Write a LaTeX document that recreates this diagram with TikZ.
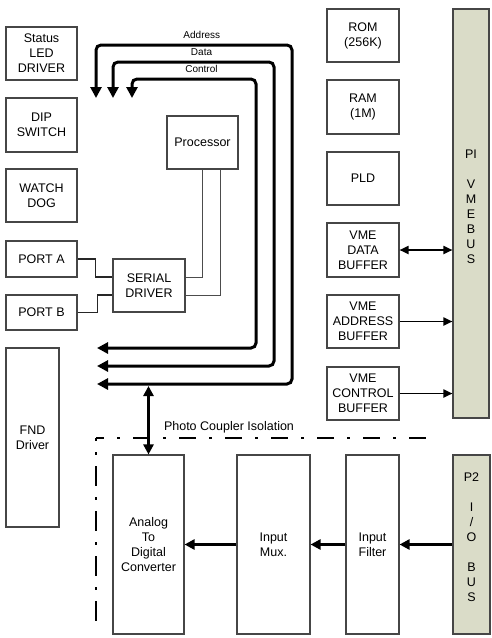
\documentclass[tikz,border=0pt]{standalone}
\usepackage{fontspec}
\setmainfont{Liberation Sans}
\usetikzlibrary{arrows.meta, positioning}
\definecolor{busfill}{RGB}{218,220,200}
\definecolor{boxline}{RGB}{70,70,70}

\begin{document}
\begin{tikzpicture}[x=1pt, y=-1pt, >=Triangle, font=\fontsize{12.5}{15}\selectfont]
  % Define styles
  \tikzstyle{block} = [rectangle, draw=boxline, line width=1.1pt, fill=white, align=center, inner sep=0pt]
  \tikzstyle{busbar} = [rectangle, draw=boxline, line width=1.1pt, fill=busfill, inner sep=0pt]
  \tikzstyle{bus} = [draw, line width=3pt, rounded corners=5pt, {Triangle[length=11pt,width=11pt]}-{Triangle[length=11pt,width=11pt]}]
  \tikzstyle{flow} = [draw, line width=2.5pt, -{Triangle[length=10pt,width=10pt]}]
  \tikzstyle{vmelink} = [draw, line width=1.8pt, -{Triangle[length=9pt,width=8pt]}]
  \tikzstyle{vmeboth} = [draw, line width=1.8pt, {Triangle[length=9pt,width=8pt]}-{Triangle[length=9pt,width=8pt]}]
  \tikzstyle{wire} = [draw, line width=1.5pt, black!85]
  \tikzstyle{thinwire} = [draw, line width=1pt, black!70]
  \tikzstyle{isohoriz} = [draw, line width=2.8pt, dash pattern=on 17pt off 13pt on 3pt off 13pt, dash phase=9pt]
  \tikzstyle{isovert} = [draw, line width=2.8pt, dash pattern=on 20pt off 11pt on 3pt off 11pt, dash phase=17pt]
  \tikzstyle{buslabel} = [font=\fontsize{10}{11}\selectfont, above=2pt]

  \useasboundingbox (0,0) rectangle (491,638);

  % Place nodes
  \node [block, minimum width=71pt, minimum height=53pt] (led) at (41.5,53.5) {Status\\LED\\DRIVER};
  \node [block, minimum width=71pt, minimum height=54pt] (dip) at (41.5,125) {DIP\\SWITCH};
  \node [block, minimum width=71pt, minimum height=53pt] (wdog) at (41.5,195.5) {WATCH\\DOG};
  \node [block, minimum width=71pt, minimum height=36pt] (porta) at (41.5,259) {PORT A};
  \node [block, minimum width=71pt, minimum height=35pt] (portb) at (41.5,312.5) {PORT B};
  \node [block, minimum width=53pt, minimum height=179pt] (fnd) at (32.5,437.5) {FND\\Driver};
  \node [block, minimum width=71pt, minimum height=53pt] (proc) at (202.5,142.5) {Processor};
  \node [block, minimum width=72pt, minimum height=53pt] (serial) at (149,285.5) {SERIAL\\DRIVER};

  \node [block, minimum width=72pt, minimum height=53pt] (rom) at (363,35.5) {ROM\\(256K)};
  \node [block, minimum width=72pt, minimum height=54pt] (ram) at (363,107) {RAM\\(1M)};
  \node [block, minimum width=72pt, minimum height=53pt] (pld) at (363,178.5) {PLD};
  \node [block, minimum width=72pt, minimum height=54pt] (vdata) at (363,250) {VME\\DATA\\BUFFER};
  \node [block, minimum width=72pt, minimum height=53pt] (vaddr) at (363,321.5) {VME\\ADDRESS\\BUFFER};
  \node [block, minimum width=72pt, minimum height=53pt] (vctrl) at (363,393.5) {VME\\CONTROL\\BUFFER};
  \node [busbar, minimum width=36pt, minimum height=409pt,
    label={[align=center, yshift=6.5pt]center:PI\\[15pt]V\\M\\E\\B\\U\\S}] (vme) at (471,213.5) {};

  \node [block, minimum width=71pt, minimum height=179pt] (adc) at (148.5,544.5) {Analog\\To\\Digital\\Converter};
  \node [block, minimum width=73pt, minimum height=179pt] (mux) at (273.5,544.5) {Input\\Mux.};
  \node [block, minimum width=53pt, minimum height=179pt] (filt) at (372.5,544.5) {Input\\Filter};
  \node [busbar, minimum width=37pt, minimum height=179pt,
    label={[align=center, yshift=7.5pt]center:P2\\[15pt]I\\/\\O\\[15pt]B\\U\\S}] (p2) at (471.5,544.5) {};

  \node (isolabel) at (229,427) {Photo Coupler Isolation};

  % Bus ends
  \coordinate (addrIn) at (96,98);
  \coordinate (addrOut) at (97,384);
  \coordinate (dataIn) at (113,98);
  \coordinate (dataOut) at (97,366);
  \coordinate (ctrlIn) at (132,98);
  \coordinate (ctrlOut) at (97,348);
  \coordinate (tap) at (148.5,386);
  \coordinate (isoA) at (437,438);
  \coordinate (isoC) at (96,438);
  \coordinate (isoB) at (96,627);

  % Draw edges
  \path [bus] (addrIn) -- (96,45) -- node[buslabel, pos=0.54] {Address} (292,45) -- (292,384) -- (addrOut);
  \path [bus] (dataIn) -- (113,62) -- node[buslabel, pos=0.55] {Data} (274,62) -- (274,366) -- (dataOut);
  \path [bus] (ctrlIn) -- (132,79) -- node[buslabel, pos=0.56] {Control} (256,79) -- (256,348) -- (ctrlOut);
  \path [draw, line width=3pt, {Triangle[length=10pt,width=10pt]}-{Triangle[length=10pt,width=10pt]}] (tap) -- (adc.north);

  \path [thinwire] (proc.south) |- ([yshift=8.5pt]serial.east);
  \path [thinwire] ([xshift=17.5pt]proc.south) |- ([yshift=-9.5pt]serial.east);
  \path [wire] (porta.east) -- ++(18,0) |- ([yshift=8.5pt]serial.west);
  \path [wire] (portb.east) -- ++(20,0) |- ([yshift=-9.5pt]serial.west);

  \path [vmeboth] (vdata.east) -- (vdata.east -| vme.west);
  \path [vmelink] (vaddr.east) -- (vaddr.east -| vme.west);
  \path [vmelink] (vctrl.east) -- (vctrl.east -| vme.west);

  \path [flow] (p2.west) -- (filt.east);
  \path [flow] (filt.west) -- (mux.east);
  \path [flow] (mux.west) -- (adc.east);

  % Isolation boundary
  \path [isohoriz] (isoC) -- (isoA);
  \path [isovert] (isoC) -- (isoB);
\end{tikzpicture}
\end{document}
